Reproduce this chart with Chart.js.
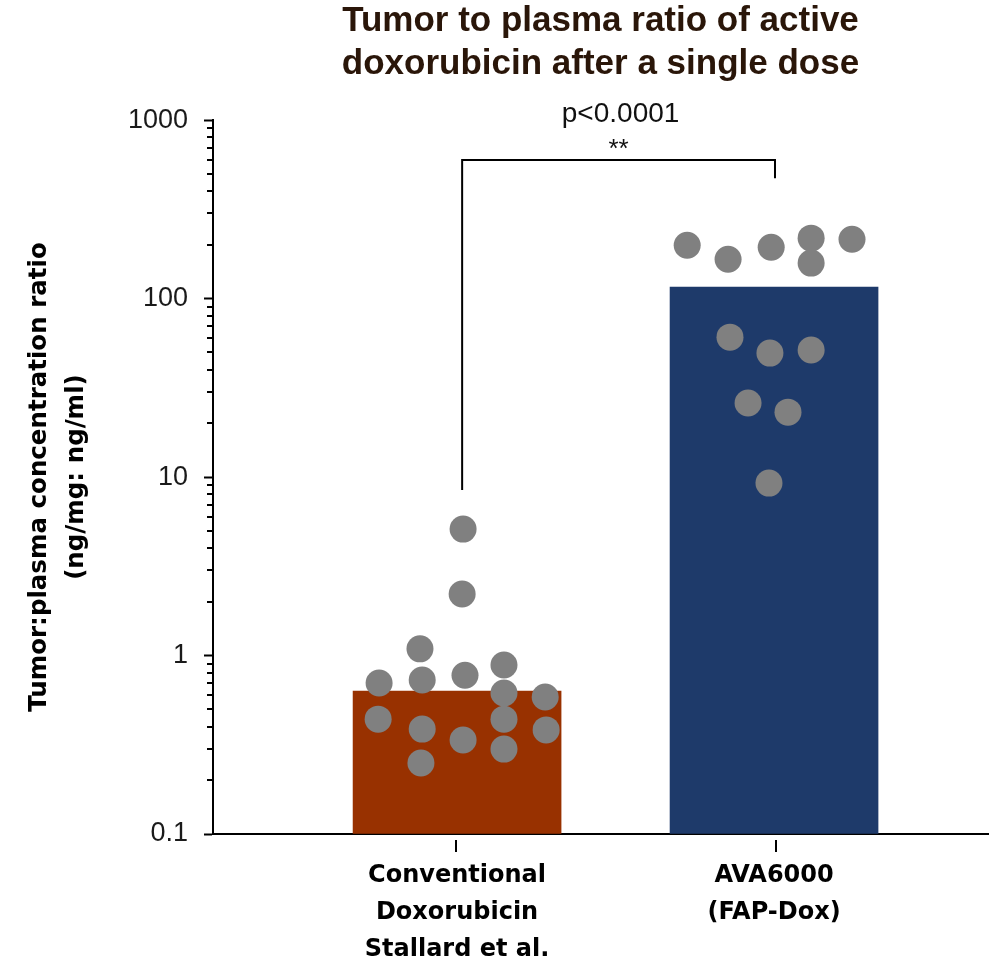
<!DOCTYPE html>
<html>
<head>
<meta charset="utf-8">
<script src="https://cdn.jsdelivr.net/npm/chart.js@4.4.1/dist/chart.umd.min.js"></script>
<style>
  html, body { margin: 0; padding: 0; background: #fff; }
  #wrap { width: 1002px; height: 961px; }
</style>
</head>
<body>
<div id="wrap"><canvas id="ratioChart"></canvas></div>
<script>
const groupLabels = [
  ["Conventional", "Doxorubicin", "Stallard et al."],
  ["AVA6000", "(FAP-Dox)"]
];
const barMeans = [0.633, 116];
const barColors = ["#983100", "#1e3a6a"];

// individual animals: jitter (in category units) and ratio
const convJitter = [0.019, 0.016, -0.117, -0.246, -0.110, 0.025, 0.148, 0.148, 0.278, -0.249, -0.110, 0.019, 0.148, 0.281, 0.148, -0.114];
const convValues = [5.11, 2.21, 1.09, 0.701, 0.729, 0.776, 0.885, 0.617, 0.586, 0.440, 0.387, 0.336, 0.440, 0.383, 0.299, 0.250];
const avaJitter = [-0.274, -0.145, -0.009, 0.117, 0.246, 0.117, -0.139, -0.013, 0.117, -0.082, 0.044, -0.016];
const avaValues = [199, 166, 194, 218, 215, 158, 60.8, 49.5, 51.5, 26.0, 23.1, 9.25];

const yMajorTicks = [0.1, 1, 10, 100, 1000];
const yTickLabels = ["0.1", "1", "10", "100", "1000"];

// significance bracket
const bracketX = [0.016, 0.016, 1.003, 1.003];
const bracketY = [8.45, 597, 597, 473];
const starsText = "**";
const pText = "p<0.0001";

const minorTicks = [];
for (let k = -1; k < 3; k++) {
  for (let m = 2; m < 10; m++) minorTicks.push(parseFloat((m * Math.pow(10, k)).toPrecision(3)));
}

const extraMarks = {
  id: "extraMarks",
  afterDraw(chart) {
    const ctx = chart.ctx;
    const x = chart.scales.x, y = chart.scales.y;
    ctx.save();
    ctx.strokeStyle = "#000";
    ctx.lineWidth = 2;
    // minor log ticks
    minorTicks.forEach(v => {
      const py = Math.round(y.getPixelForValue(v));
      ctx.beginPath();
      ctx.moveTo(x.left - 6, py);
      ctx.lineTo(x.left, py);
      ctx.stroke();
    });
    // category ticks, detached from axis
    [0, 1].forEach(v => {
      const px = Math.round(x.getPixelForValue(v === 0 ? -0.003 : 1.006));
      ctx.beginPath();
      ctx.moveTo(px, y.bottom + 6);
      ctx.lineTo(px, y.bottom + 18);
      ctx.stroke();
    });
    // significance text
    const top = y.getPixelForValue(bracketY[1]);
    const mid = x.getPixelForValue((bracketX[0] + bracketX[2]) / 2);
    ctx.fillStyle = "#111";
    ctx.textAlign = "center";
    ctx.textBaseline = "middle";
    ctx.font = "26px 'Liberation Sans', Arial, sans-serif";
    ctx.fillText(starsText, mid, top - 10);
    ctx.font = "28px 'Liberation Sans', Arial, sans-serif";
    ctx.fillText(pText, mid + 2, top - 46);
    ctx.restore();
  }
};

const pts = (jit, vals, c) => vals.map((v, i) => ({ x: c + jit[i], y: v }));

new Chart(document.getElementById("ratioChart"), {
  type: "bar",
  data: {
    datasets: [
      {
        type: "bar",
        data: barMeans.map((v, i) => ({ x: i, y: v })),
        backgroundColor: barColors,
        barThickness: 208,
        base: 0.1,
        order: 3
      },
      {
        type: "scatter",
        data: pts(convJitter, convValues, 0),
        backgroundColor: "#808080",
        borderWidth: 0,
        pointRadius: 13.5,
        order: 2
      },
      {
        type: "scatter",
        data: pts(avaJitter, avaValues, 1),
        backgroundColor: "#808080",
        borderWidth: 0,
        pointRadius: 13.5,
        order: 2
      },
      {
        type: "scatter",
        data: bracketX.map((v, i) => ({ x: v, y: bracketY[i] })),
        showLine: true,
        borderColor: "#000",
        borderWidth: 2,
        pointRadius: 0,
        fill: false,
        order: 1
      }
    ]
  },
  options: {
    responsive: true,
    maintainAspectRatio: false,
    animation: false,
    layout: { padding: { right: 14 } },
    plugins: {
      legend: { display: false },
      tooltip: { enabled: false },
      title: {
        display: true,
        fullSize: false,
        text: ["Tumor to plasma ratio of active", "doxorubicin after a single dose"],
        color: "#2a1609",
        font: { family: "'Liberation Sans', Arial, sans-serif", size: 35, weight: "bold", lineHeight: 1.23 },
        padding: { top: 0, bottom: 34 }
      }
    },
    scales: {
      x: {
        type: "linear",
        offset: false,
        grace: 0,
        bounds: "data",
        min: -0.77,
        max: 1.675,
        afterBuildTicks: s => { s.ticks = [{ value: 0 }, { value: 1 }]; },
        afterFit: s => { s.height = 127; },
        grid: { display: false, drawTicks: false, offset: false },
        border: { display: true, color: "#000", width: 2 },
        ticks: {
          autoSkip: false,
          maxRotation: 0,
          padding: 23,
          color: "#000",
          font: { family: "'DejaVu Sans', sans-serif", size: 24, weight: "bold", lineHeight: 1.55 },
          callback: v => groupLabels[v]
        }
      },
      y: {
        type: "logarithmic",
        min: 0.1,
        max: 1000,
        afterBuildTicks: s => { s.ticks = yMajorTicks.map(v => ({ value: v })); },
        afterFit: s => { s.width = 213; },
        grid: { drawOnChartArea: false, tickLength: 9, tickWidth: 2, tickColor: "#000" },
        border: { display: true, color: "#000", width: 2 },
        ticks: {
          autoSkip: false,
          padding: 16,
          color: "#1a1a1a",
          font: { family: "'Liberation Sans', Arial, sans-serif", size: 27 },
          callback: v => yTickLabels[yMajorTicks.indexOf(v)]
        },
        title: {
          display: true,
          text: ["Tumor:plasma concentration ratio", "(ng/mg: ng/ml)"],
          color: "#000",
          font: { family: "'DejaVu Sans', sans-serif", size: 24.5, weight: "bold", lineHeight: 1.51 },
          padding: { top: 21, bottom: 0 }
        }
      }
    }
  },
  plugins: [extraMarks]
});
</script>
</body>
</html>
